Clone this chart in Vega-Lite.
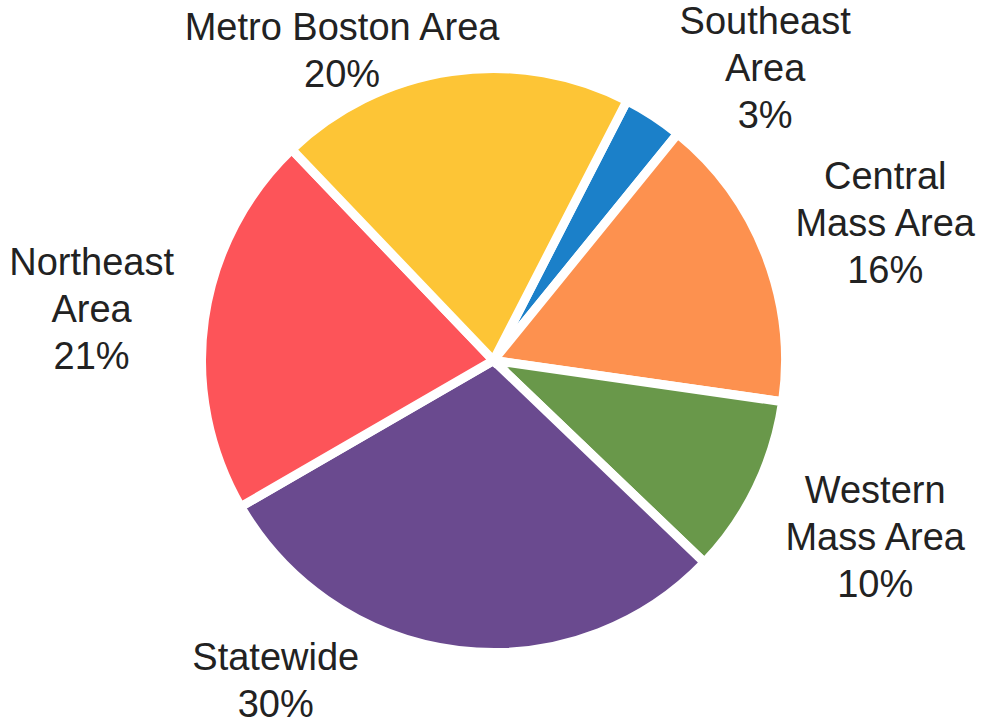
{
  "$schema": "https://vega.github.io/schema/vega-lite/v6.json",
  "width": 983,
  "height": 721,
  "padding": {"left": 2, "top": 0, "right": 0, "bottom": 2},
  "autosize": {"type": "none"},
  "background": "white",
  "config": {"view": {"stroke": null}, "text": {"font": "Liberation Sans", "fontSize": 38, "lineHeight": 47, "color": "#222222", "align": "center", "baseline": "middle"}},
  "data": {
    "values": [
      {"region": "Southeast Area", "order": 1, "share": 3.3, "lines": ["Southeast", "Area", "3%"]},
      {"region": "Central Mass Area", "order": 2, "share": 16.4, "lines": ["Central", "Mass Area", "16%"]},
      {"region": "Western Mass Area", "order": 3, "share": 9.9, "lines": ["Western", "Mass Area", "10%"]},
      {"region": "Statewide", "order": 4, "share": 29.5, "lines": ["Statewide", "30%"]},
      {"region": "Northeast Area", "order": 5, "share": 21.2, "lines": ["Northeast", "Area", "21%"]},
      {"region": "Metro Boston Area", "order": 6, "share": 19.7, "lines": ["Metro Boston Area", "20%"]}
    ]
  },
  "encoding": {
    "theta": {"field": "share", "type": "quantitative", "stack": true, "scale": {"range": [0.4747, 6.7579]}},
    "order": {"field": "order", "type": "quantitative", "sort": "ascending"}
  },
  "layer": [
    {
      "mark": {"type": "arc", "outerRadius": 292, "stroke": "white", "strokeWidth": 9},
      "encoding": {
        "color": {
          "field": "region",
          "type": "nominal",
          "legend": null,
          "scale": {
            "domain": ["Southeast Area", "Central Mass Area", "Western Mass Area", "Statewide", "Northeast Area", "Metro Boston Area"],
            "range": ["#1B80C9", "#FD914F", "#69984A", "#6A4A8F", "#FD5459", "#FDC536"]
          }
        }
      }
    },
    {
      "mark": {"type": "text", "radius": 400, "dx": 53, "dy": -3},
      "encoding": {"text": {"condition": {"test": "datum.order == 1", "field": "lines"}, "value": ""}}
    },
    {
      "mark": {"type": "text", "radius": 410, "dx": 10, "dy": -33},
      "encoding": {"text": {"condition": {"test": "datum.order == 2", "field": "lines"}, "value": ""}}
    },
    {
      "mark": {"type": "text", "radius": 410, "dx": 13, "dy": -48},
      "encoding": {"text": {"condition": {"test": "datum.order == 3", "field": "lines"}, "value": ""}}
    },
    {
      "mark": {"type": "text", "radius": 400, "dx": -170, "dy": -99},
      "encoding": {"text": {"condition": {"test": "datum.order == 4", "field": "lines"}, "value": ""}}
    },
    {
      "mark": {"type": "text", "radius": 410, "dx": 4, "dy": -39},
      "encoding": {"text": {"condition": {"test": "datum.order == 5", "field": "lines"}, "value": ""}}
    },
    {
      "mark": {"type": "text", "radius": 400, "dx": -94, "dy": 64},
      "encoding": {"text": {"condition": {"test": "datum.order == 6", "field": "lines"}, "value": ""}}
    }
  ]
}
